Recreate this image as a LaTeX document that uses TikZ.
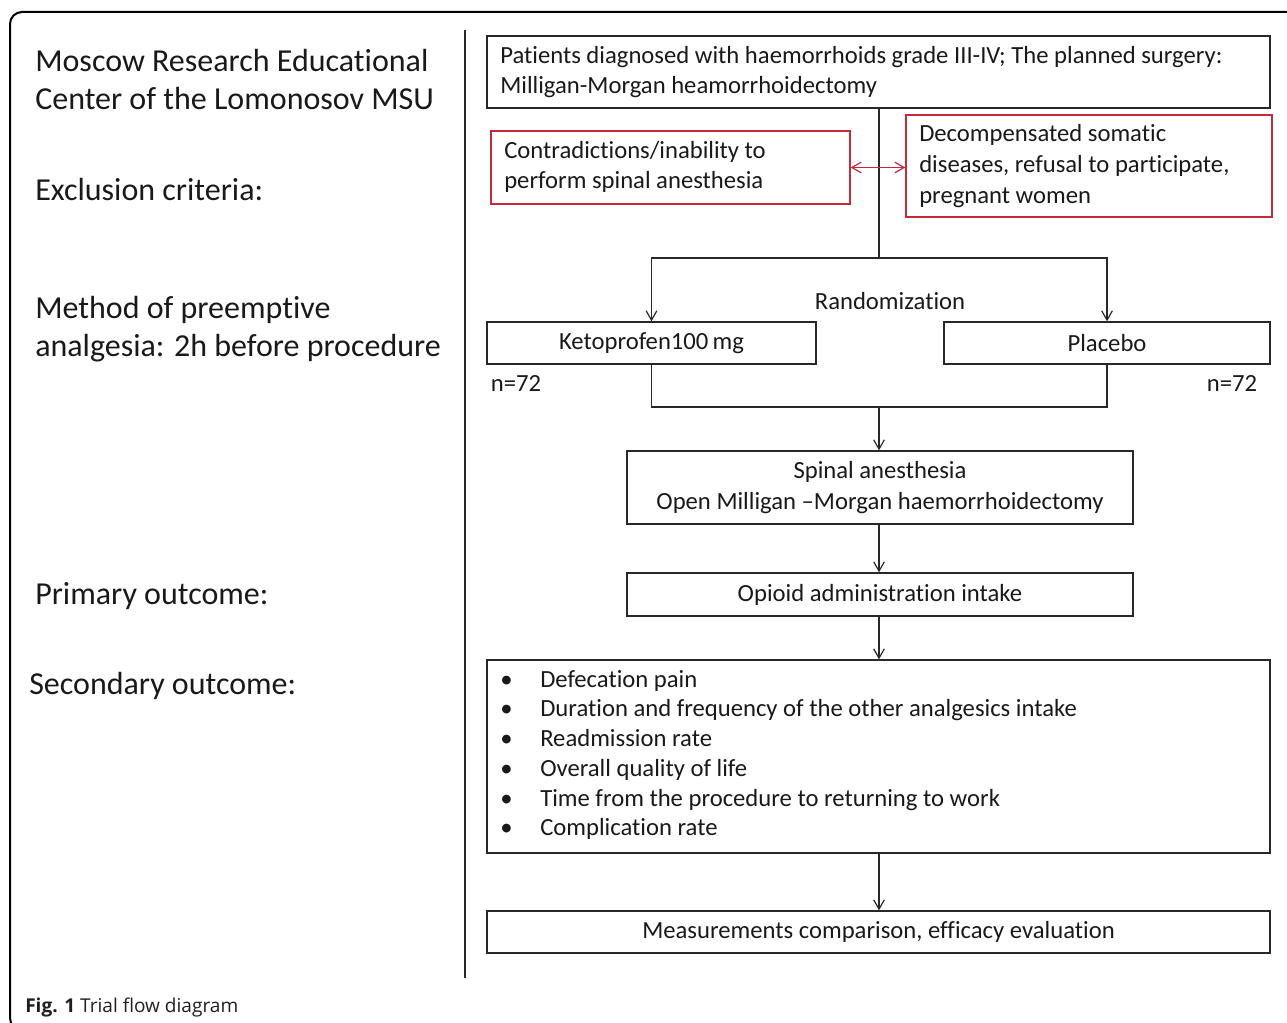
\documentclass[tikz,border=0pt]{standalone}
\usepackage{fontspec}
\setmainfont[Ligatures={NoCommon}]{Carlito}
\newfontfamily\capfont{Open Sans}
\usetikzlibrary{arrows.meta,fit}
\definecolor{exred}{RGB}{196,42,58}
\definecolor{lineg}{RGB}{40,40,40}
\begin{document}
\begin{tikzpicture}[x=0.75pt,y=-0.75pt,
  box/.style={draw=lineg, line width=1pt, inner sep=0pt},
  redbox/.style={draw=exred, line width=1pt, inner sep=0pt},
  conn/.style={draw=lineg, line width=0.9pt},
  arr/.style={conn, -{Straight Barb[length=7pt,width=8pt]}},
  redarr/.style={draw=exred, line width=0.9pt, {Straight Barb[length=7pt,width=8pt]}-{Straight Barb[length=7pt,width=8pt]}},
  lbl/.style={anchor=west, inner sep=0pt, align=left, font=\fontsize{24pt}{28.5pt}\selectfont, text=black!90},
  txt/.style={inner sep=0pt, font=\fontsize{18.5pt}{23pt}\selectfont, text=black!90},
  ltxt/.style={txt, anchor=west, align=left},
  ctxt/.style={txt, align=center}
]
\useasboundingbox (0,0) rectangle (1287,1023);
\begin{scope}
\clip (0,0) rectangle (1287,1023);
\draw[line width=1.5pt, rounded corners=9pt] (10,12) rectangle (1310,1030);
\end{scope}

% separator
\draw[conn, line width=1pt] (465,30) -- (465,978);

% left labels
\node[lbl] (l1) at (35,80) {Moscow Research Educational\\Center of the Lomonosov MSU};
\node[lbl] (l2) at (35,190) {Exclusion criteria:};
\node[lbl] (l3) at (35,329) {Method of preemptive\\analgesia: 2h before procedure};
\node[lbl] (l4) at (35,596) {Primary outcome:};
\node[lbl] (l5) at (29,686) {Secondary outcome:};

% boxes
\node[box, fit={(487,36) (1270,108)}] (top) {};
\node[ltxt] (toptxt) at (500,72) {Patients diagnosed with haemorrhoids grade III-IV; The planned surgery:\\Milligan-Morgan heamorrhoidectomy};

\node[redbox, fit={(491,131) (850,204)}] (redL) {};
\node[ltxt] (redLtxt) at (504,167) {Contradictions/inability to\\perform spinal anesthesia};

\node[redbox, fit={(906,115) (1272,217)}] (redR) {};
\node[ltxt] (redRtxt) at (919,166) {Decompensated somatic\\diseases, refusal to participate,\\pregnant women};

\node[ctxt] (rand) at (890,301) {Randomization};

\node[box, fit={(487,322) (816,364)}] (keto) {};
\node[ctxt] (ketotxt) at (keto.center) {Ketoprofen100\,mg};
\node[box, fit={(944,322) (1270,364)}] (plac) {};
\node[ctxt] (plactxt) at (plac.center) {Placebo};

\node[ctxt] (n1) at (516,383) {n=72};
\node[ctxt] (n2) at (1232,383) {n=72};

\node[box, fit={(627,451) (1133,524)}] (spinal) {};
\node[ctxt] (spinaltxt) at (spinal.center) {Spinal anesthesia\\Open Milligan --Morgan haemorrhoidectomy};

\node[box, fit={(627,573) (1133,616)}] (opioid) {};
\node[ctxt] (opioidtxt) at (opioid.center) {Opioid administration intake};

\node[box, fit={(487,660) (1270,853)}] (second) {};
\node[ltxt, font=\fontsize{18.5pt}{22.3pt}\selectfont] (secondtxt) at (500,755) {%
\makebox[30pt][l]{•}Defecation pain\\
\makebox[30pt][l]{•}Duration and frequency of the other analgesics intake\\
\makebox[30pt][l]{•}Readmission rate\\
\makebox[30pt][l]{•}Overall quality of life\\
\makebox[30pt][l]{•}Time from the procedure to returning to work\\
\makebox[30pt][l]{•}Complication rate};

\node[box, fit={(487,911) (1270,953)}] (final) {};
\node[ctxt] (finaltxt) at (final.center) {Measurements comparison, efficacy evaluation};

% connectors
\coordinate (split) at (879,258);
\coordinate (merge) at (879,407);
\draw[conn] (top.south -| split) -- (split);
\draw[arr] (split) -| (keto.north);
\draw[arr] (split) -| (plac.north);
\draw[redarr] (redL.east) -- (redL.east -| redR.west);
\draw[conn] (keto.south) |- (merge);
\draw[conn] (plac.south) |- (merge);
\draw[arr] (merge) -- (merge |- spinal.north);
\draw[arr] (spinal.south -| merge) -- (opioid.north -| merge);
\draw[arr] (opioid.south -| merge) -- (second.north -| merge);
\draw[arr] (second.south -| merge) -- (final.north -| merge);

% caption
\node[anchor=base west, inner sep=0pt, text=black!88] (cap) at (25,1012) {\capfont\fontsize{14.3pt}{17pt}\selectfont\textbf{Fig. 1} Trial flow diagram};
\end{tikzpicture}
\end{document}
